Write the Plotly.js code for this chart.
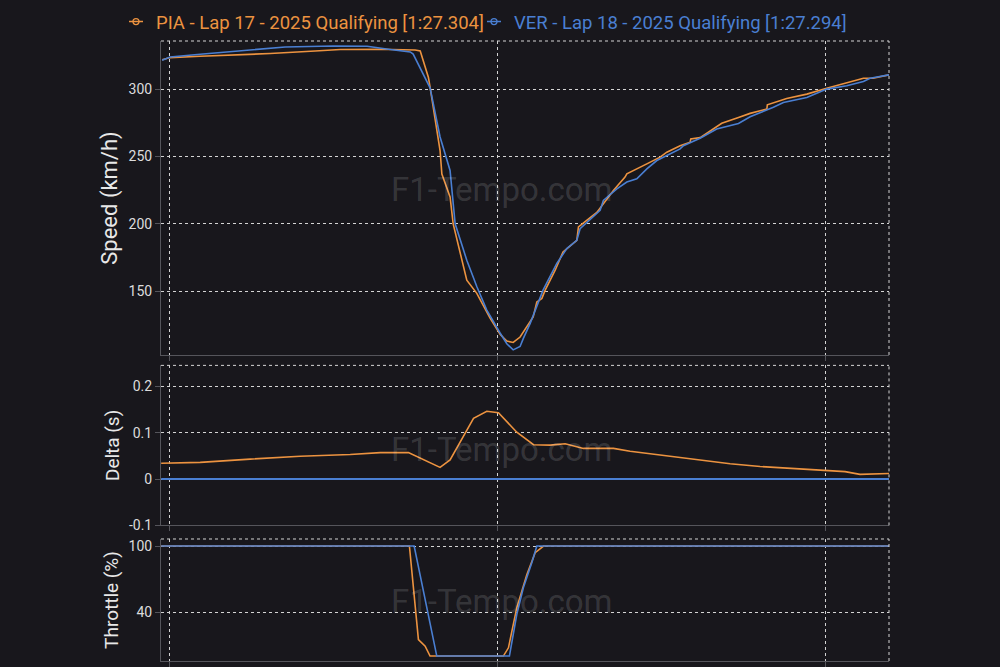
<!DOCTYPE html>
<html>
<head>
<meta charset="utf-8">
<script src="https://cdn.plot.ly/plotly-3.0.1.min.js"></script>
<style>
  html, body { margin: 0; padding: 0; background: #18171c; }
  #chart { width: 1000px; height: 667px; }
</style>
</head>
<body>
<div id="chart"></div>
<script>
// ---------- data ----------
const piaName = 'PIA - Lap 17 - 2025 Qualifying [1:27.304]';
const verName = 'VER - Lap 18 - 2025 Qualifying [1:27.294]';

const piaSpeedDist = [3995.7, 4000.6, 4018.9, 4037.2, 4061.6, 4089.0, 4104.3, 4128.7, 4150.0, 4153.1, 4158.1, 4159.1, 4165.2, 4166.3, 4171.3, 4173.2, 4181.5, 4187.6, 4195.7, 4201.8, 4205.9, 4209.8, 4214.0, 4222.0, 4224.2, 4227.3, 4229.3, 4235.4, 4240.2, 4248.6, 4249.6, 4260.8, 4270.9, 4278.0, 4279.1, 4291.3, 4299.4, 4303.5, 4311.6, 4317.7, 4318.1, 4323.8, 4337.0, 4347.2, 4354.3, 4364.5, 4364.8, 4376.6, 4388.9, 4401.0, 4413.2, 4423.4, 4429.3, 4439.0];
const piaSpeed = [321.8, 323.4, 324.4, 325.1, 326.4, 328.3, 329.4, 329.6, 329.0, 328.3, 308.6, 301.5, 254.4, 237.0, 220.0, 200.0, 158.2, 148.4, 130.0, 118.0, 113.0, 112.0, 116.0, 131.0, 142.0, 144.7, 150.8, 165.6, 179.2, 187.8, 197.7, 208.5, 224.8, 234.7, 237.1, 244.5, 249.5, 253.2, 258.0, 260.6, 263.0, 264.0, 274.6, 279.0, 282.0, 285.2, 288.4, 293.1, 296.3, 300.7, 305.0, 308.1, 308.1, 310.6];

const verSpeedDist = [3995.7, 4000.6, 4018.9, 4035.4, 4055.5, 4070.7, 4100.0, 4120.7, 4134.8, 4147.0, 4148.8, 4159.1, 4165.2, 4171.3, 4174.4, 4181.5, 4187.6, 4193.7, 4201.8, 4205.9, 4209.8, 4214.0, 4216.0, 4220.1, 4228.0, 4236.4, 4242.5, 4248.6, 4250.6, 4262.8, 4264.8, 4273.0, 4279.1, 4285.2, 4291.3, 4297.4, 4303.5, 4311.6, 4313.6, 4323.8, 4333.9, 4347.2, 4354.3, 4364.5, 4368.5, 4374.6, 4388.9, 4401.0, 4413.2, 4423.4, 4427.5, 4439.0];
const verSpeed = [321.4, 323.9, 325.9, 327.6, 329.6, 331.3, 332.0, 331.8, 329.4, 327.6, 326.0, 301.0, 264.5, 239.6, 200.1, 173.0, 153.5, 136.0, 119.0, 111.0, 106.5, 109.0, 115.0, 126.0, 150.8, 170.6, 181.7, 187.8, 196.4, 210.0, 217.4, 226.0, 231.0, 233.4, 240.8, 247.0, 250.7, 255.6, 258.0, 263.5, 270.4, 274.5, 279.5, 284.5, 286.5, 290.1, 293.8, 300.0, 302.5, 305.7, 308.1, 310.6];

const piaDeltaDist = [3995.1, 4018.9, 4049.4, 4079.9, 4110.4, 4128.7, 4145.9, 4165.2, 4171.3, 4185.6, 4193.7, 4200.8, 4212.0, 4222.2, 4232.3, 4241.5, 4252.6, 4271.0, 4281.1, 4299.4, 4323.8, 4342.1, 4360.4, 4384.8, 4400.0, 4412.2, 4421.3, 4430.5, 4439.0];
const piaDelta = [0.034, 0.036, 0.043, 0.049, 0.053, 0.057, 0.057, 0.025, 0.041, 0.131, 0.146, 0.143, 0.101, 0.074, 0.073, 0.076, 0.066, 0.066, 0.060, 0.052, 0.041, 0.033, 0.027, 0.022, 0.018, 0.016, 0.010, 0.011, 0.012];
const verDeltaDist = [3995.1, 4439.0];
const verDelta = [0, 0];

const piaThrottleDist = [3995.1, 4146.5, 4152.0, 4156.1, 4159.1, 4203.8, 4206.9, 4212.0, 4218.1, 4223.2, 4228.3, 4439.0];
const piaThrottle = [100, 100, 15, 9, 0, 0, 7.5, 44, 74, 94, 100, 100];
const verThrottleDist = [3995.1, 4149.4, 4163.2, 4207.5, 4212.0, 4216.0, 4221.2, 4224.2, 4439.0];
const verThrottle = [100, 100, 0, 0, 38, 62, 85, 100, 100];

const distTicks = [4000, 4200, 4400];
const speedTicks = [150, 200, 250, 300];
const deltaTicks = [-0.1, 0, 0.1, 0.2];
const deltaTickText = ['-0.1', '0', '0.1', '0.2'];
const throttleTicks = [40, 100];
const watermark = 'F1-Tempo.com';

// ---------- styling ----------
const ORANGE = '#ec9340';
const BLUE = '#4a7fd2';
const BG = '#18171c';
const GRID = '#d4d4d4';
const FRAME = '#55555b';
const FONT = 'Roboto, "Open Sans", sans-serif';

function line(x, y, color, xa, ya, w) {
  return { x: x, y: y, type: 'scatter', mode: 'lines', xaxis: xa, yaxis: ya,
           line: { color: color, width: w || 1.6 }, showlegend: false, hoverinfo: 'skip' };
}
function legendEntry(name, color, legendId) {
  return { x: [null], y: [null], type: 'scatter', mode: 'lines+markers', xaxis: 'x', yaxis: 'y',
           legend: legendId, name: '<span style="color:' + color + '">' + name + '</span>',
           line: { color: color, width: 1.5, dash: '0px,8px,14px,100px' },
           marker: { symbol: 'circle-open', size: 6, color: color, line: { width: 1.3 } } };
}

const traces = [
  legendEntry(piaName, ORANGE, 'legend'),
  legendEntry(verName, BLUE, 'legend2'),
  line(verDeltaDist, verDelta, BLUE, 'x2', 'y2', 2),
  line(piaDeltaDist, piaDelta, ORANGE, 'x2', 'y2'),
  line(piaSpeedDist, piaSpeed, ORANGE, 'x', 'y'),
  line(verSpeedDist, verSpeed, BLUE, 'x', 'y'),
  line(piaThrottleDist, piaThrottle, ORANGE, 'x3', 'y3'),
  line(verThrottleDist, verThrottle, BLUE, 'x3', 'y3')
];

function xAxis(anchor) {
  return {
    anchor: anchor, domain: [0, 1], range: [3995, 4439],
    tickvals: distTicks, showticklabels: false,
    ticks: 'outside', ticklen: 5, tickcolor: FRAME,
    showgrid: true, gridcolor: GRID, griddash: 'dot', gridwidth: 1,
    showline: true, linecolor: FRAME, linewidth: 1, zeroline: false
  };
}
function yAxis(anchor, domain, range, tickvals, title, tsize) {
  return {
    anchor: anchor, domain: domain, range: range, tickvals: tickvals,
    ticks: 'outside', ticklen: 5, tickcolor: FRAME,
    tickfont: { family: FONT, size: 14, color: '#dcdcdc' },
    showgrid: true, gridcolor: GRID, griddash: 'dot', gridwidth: 1,
    showline: true, linecolor: FRAME, linewidth: 1, zeroline: false,
    title: { text: title, font: { family: FONT, size: tsize, color: '#e8e8e8' }, standoff: 4 }
  };
}

const yDelta = yAxis('x2', [0.2187, 0.4768], [-0.1, 0.245], deltaTicks, 'Delta (s)', 19);
yDelta.ticktext = deltaTickText;

const shapes = [];
[['x', 'y'], ['x2', 'y2'], ['x3', 'y3']].forEach(function (p) {
  shapes.push({ type: 'line', xref: p[0] + ' domain', yref: p[1] + ' domain', x0: 0, x1: 1, y0: 1, y1: 1,
                line: { color: GRID, width: 1, dash: 'dot' } });
  shapes.push({ type: 'line', xref: p[0] + ' domain', yref: p[1] + ' domain', x0: 1, x1: 1, y0: 0, y1: 1,
                line: { color: GRID, width: 1, dash: 'dot' } });
});

function mark(y) {
  return { text: watermark, xref: 'paper', yref: 'paper', x: 0.468, y: y, showarrow: false,
           xanchor: 'center', yanchor: 'middle',
           font: { family: FONT, size: 33, color: 'rgba(255,255,255,0.14)' } };
}

function legendBox(x) {
  return {
    orientation: 'h', xref: 'container', yref: 'container',
    x: x, xanchor: 'left', y: 0.967, yanchor: 'middle',
    font: { family: FONT, size: 18.5 }, bgcolor: 'rgba(0,0,0,0)', itemwidth: 30
  };
}

const layout = {
  width: 1000, height: 667,
  paper_bgcolor: BG, plot_bgcolor: BG,
  margin: { l: 161, r: 111, t: 36, b: 6, pad: 0 },
  font: { family: FONT, color: '#dcdcdc' },
  showlegend: true,
  legend: legendBox(0.116),
  legend2: legendBox(0.474),
  xaxis: xAxis('y'),
  xaxis2: xAxis('y2'),
  xaxis3: xAxis('y3'),
  yaxis: yAxis('x', [0.4936, 1], [102.7, 335.7], speedTicks, 'Speed (km/h)', 22),
  yaxis2: yDelta,
  yaxis3: yAxis('x3', [0, 0.1968], [-4.5, 106.4], throttleTicks, 'Throttle (%)', 19),
  shapes: shapes,
  annotations: [mark(0.76), mark(0.341), mark(0.096)]
};

Plotly.newPlot('chart', traces, layout, { displayModeBar: false, staticPlot: true });
</script>
</body>
</html>
